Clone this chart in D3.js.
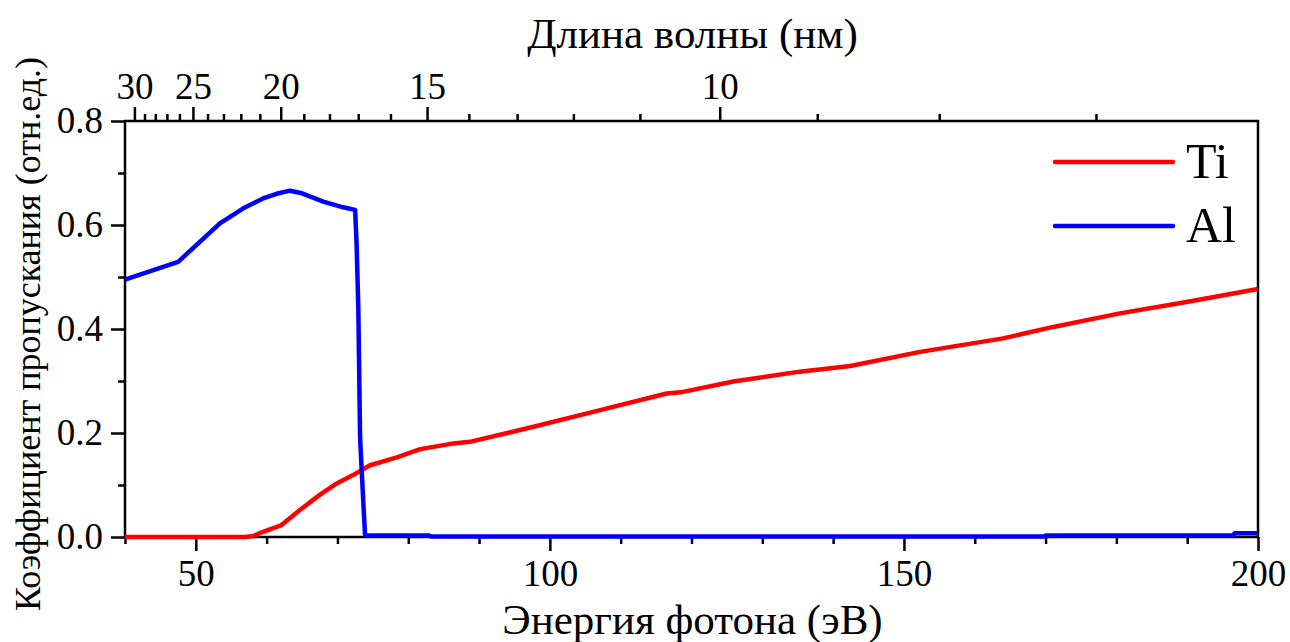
<!DOCTYPE html>
<html lang="ru">
<head>
    <meta charset="UTF-8">
    <title>Коэффициент пропускания Ti и Al</title>
    <script src="https://cdn.jsdelivr.net/npm/d3@7/dist/d3.min.js"></script>
    <style>
        body { margin: 0; background: #fff; }
        text { font-family: "Liberation Serif", "Times New Roman", serif; fill: #000; }
    </style>
</head>
<body>
<script>

    // данные (энергия в эВ, коэффициент пропускания в отн.ед.)
    var tiE = [40, 57, 58.1, 59.5, 62.1, 64.7, 67.5, 69.9, 72.2, 74.6, 78.4, 81.7, 86.4, 88.7,
               97.7, 107.1, 116.5, 118.8, 125.9, 135.3, 142.4, 152.3, 164, 171.1, 180.5, 189.9, 200];
    var tiT = [0, 0, 0.002, 0.01, 0.023, 0.052, 0.081, 0.103, 0.119, 0.138, 0.153, 0.169, 0.18, 0.183,
               0.212, 0.244, 0.276, 0.279, 0.299, 0.318, 0.329, 0.356, 0.382, 0.404, 0.43, 0.452, 0.477];

    var alE = [40, 47.5, 53.4, 56.7, 59.5, 61.4, 63.3, 65, 68, 70.8, 72.5, 72.7, 72.95, 73.2, 73.65, 73.9,
               83, 83.2, 169.8, 170, 196.5, 196.7, 200];
    var alT = [0.495, 0.529, 0.603, 0.632, 0.651, 0.66, 0.666, 0.661, 0.645, 0.634, 0.629, 0.565, 0.44, 0.19, 0.068, 0.003,
               0.003, 0.001, 0.001, 0.003, 0.003, 0.007, 0.007];

    var seriesNames = ["Ti", "Al"];
    var seriesColors = ["#ff0000", "#0000ff"];

    // ось энергий
    var eMajor = [50, 100, 150, 200];
    var eMinor = [40, 60, 70, 80, 90, 110, 120, 130, 140, 160, 170, 180, 190];
    // ось длин волн (нм)
    var wlMajor = [30, 25, 20, 15, 10];
    var wlMinor = [29, 28, 27, 26, 24, 23, 22, 21, 19, 18, 17, 16, 14, 13, 12, 11, 9, 8, 7];
    // ось пропускания
    var tMajor = [0, 0.2, 0.4, 0.6, 0.8];
    var tMinor = [0.1, 0.3, 0.5, 0.7];

    var hc = 1239.84; // эВ*нм

    // холст
    var width = 1290;
    var height = 642;
    var pLeft = 125, pRight = 1258, pTop = 121, pBottom = 537;

    var svg = d3.select("body")
        .append("svg")
        .attr("width", width)
        .attr("height", height);

    var x = d3.scaleLinear().domain([40, 200]).range([pLeft, pRight]);
    var y = d3.scaleLinear().domain([0, 0.8]).range([pBottom, pTop]);

    var serif = '"Liberation Serif", "Times New Roman", serif';

    function styleAxis(g) {
        g.attr("font-family", serif);
        g.selectAll(".domain").remove();
        g.selectAll("line").attr("stroke", "#000").attr("stroke-width", 2.5);
        g.selectAll("text").style("font-size", "37px").style("font-family", serif);
    }

    // нижняя ось
    svg.append("g")
        .attr("transform", "translate(0," + pBottom + ")")
        .call(d3.axisBottom(x).tickValues(eMinor).tickSize(7).tickFormat(""))
        .call(styleAxis);
    svg.append("g")
        .attr("transform", "translate(0," + pBottom + ")")
        .call(d3.axisBottom(x).tickValues(eMajor).tickSize(14).tickPadding(9).tickFormat(d3.format("d")))
        .call(styleAxis);

    // верхняя ось (длина волны)
    svg.append("g")
        .attr("transform", "translate(0," + pTop + ")")
        .call(d3.axisTop(x).tickValues(wlMinor.map(function (l) { return hc / l; })).tickSize(7).tickFormat(""))
        .call(styleAxis);
    svg.append("g")
        .attr("transform", "translate(0," + pTop + ")")
        .call(d3.axisTop(x).tickValues(wlMajor.map(function (l) { return hc / l; })).tickSize(14).tickPadding(8)
            .tickFormat(function (e) { return Math.round(hc / e); }))
        .call(styleAxis);

    // левая ось
    svg.append("g")
        .attr("transform", "translate(" + pLeft + ",0)")
        .call(d3.axisLeft(y).tickValues(tMinor).tickSize(7).tickFormat(""))
        .call(styleAxis);
    svg.append("g")
        .attr("transform", "translate(" + pLeft + ",0)")
        .call(d3.axisLeft(y).tickValues(tMajor).tickSize(14).tickPadding(8).tickFormat(d3.format(".1f")))
        .call(styleAxis);

    // рамка
    svg.append("rect")
        .attr("x", pLeft)
        .attr("y", pTop)
        .attr("width", pRight - pLeft)
        .attr("height", pBottom - pTop)
        .attr("fill", "none")
        .attr("stroke", "#000")
        .attr("stroke-width", 2.5);

    // кривые
    var line = d3.line()
        .x(function (d) { return x(d[0]); })
        .y(function (d) { return y(d[1]); });

    var curves = [d3.zip(tiE, tiT), d3.zip(alE, alT)];
    svg.selectAll("path.curve")
        .data(curves)
        .enter()
        .append("path")
        .attr("class", "curve")
        .attr("d", line)
        .attr("fill", "none")
        .attr("stroke", function (d, i) { return seriesColors[i]; })
        .attr("stroke-width", 4.5)
        .attr("stroke-linejoin", "round");

    // легенда
    var legend = svg.selectAll("g.legend")
        .data(seriesNames)
        .enter()
        .append("g")
        .attr("class", "legend")
        .attr("transform", function (d, i) { return "translate(1055," + (162 + i * 64) + ")"; });
    legend.append("line")
        .attr("x1", 0).attr("x2", 118)
        .attr("stroke", function (d, i) { return seriesColors[i]; })
        .attr("stroke-width", 4.5)
        .attr("stroke-linecap", "round");
    legend.append("text")
        .attr("x", 131)
        .attr("y", 16)
        .style("font-size", "50px")
        .text(function (d) { return d; });

    // подписи осей
    svg.append("text")
        .attr("x", (pLeft + pRight) / 2 + 1)
        .attr("y", 634)
        .attr("text-anchor", "middle")
        .style("font-size", "43px")
        .text("Энергия фотона (эВ)");

    svg.append("text")
        .attr("x", (pLeft + pRight) / 2 + 1)
        .attr("y", 48)
        .attr("text-anchor", "middle")
        .style("font-size", "43px")
        .text("Длина волны (нм)");

    svg.append("text")
        .attr("transform", "translate(40,334) rotate(-90)")
        .attr("text-anchor", "middle")
        .style("font-size", "36px")
        .text("Коэффициент пропускания (отн.ед.)");

</script>
</body>
</html>
